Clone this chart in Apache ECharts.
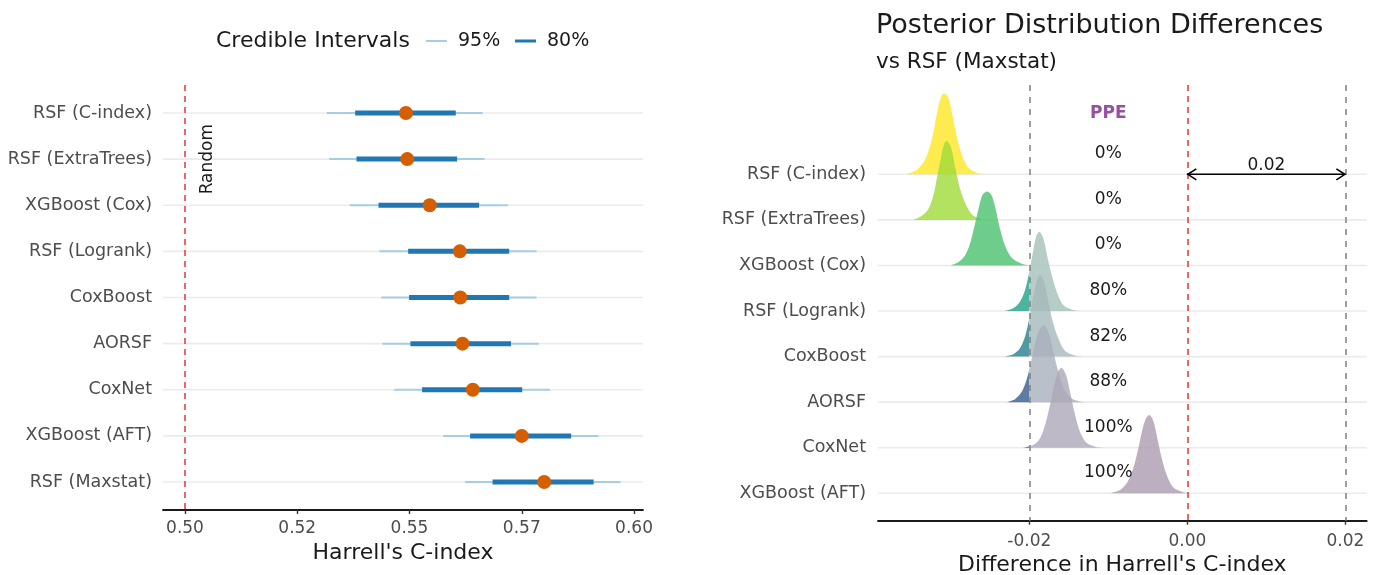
<!DOCTYPE html>
<html>
<head>
<meta charset="utf-8">
<script src="https://cdn.jsdelivr.net/npm/echarts@6/dist/echarts.min.js"></script>
<style>
html, body { margin: 0; padding: 0; background: #ffffff; }
#chart { width: 1378px; height: 575px; }
</style>
</head>
<body>
<div id="chart"></div>
<script>
// ---- Left panel: Harrell's C-index per model (posterior median, 80% / 95% credible intervals)
const models = ['RSF (C-index)', 'RSF (ExtraTrees)', 'XGBoost (Cox)', 'RSF (Logrank)', 'CoxBoost',
  'AORSF', 'CoxNet', 'XGBoost (AFT)', 'RSF (Maxstat)'];
const cMedian  = [0.5492, 0.5495, 0.5545, 0.5612, 0.5613, 0.5618, 0.5641, 0.5750, 0.5800];
const ci95Low  = [0.5316, 0.5321, 0.5367, 0.5433, 0.5437, 0.5440, 0.5466, 0.5575, 0.5624];
const ci95High = [0.5663, 0.5667, 0.5719, 0.5783, 0.5783, 0.5788, 0.5813, 0.5921, 0.5970];
const ci80Low  = [0.5379, 0.5382, 0.5431, 0.5497, 0.5499, 0.5502, 0.5528, 0.5635, 0.5685];
const ci80High = [0.5603, 0.5606, 0.5655, 0.5722, 0.5722, 0.5726, 0.5751, 0.5860, 0.5910];
const randomC = 0.5;
const cTicks = [0.5, 0.525, 0.55, 0.575, 0.6];
const cTickLabels = ['0.50', '0.52', '0.55', '0.57', '0.60'];

// ---- Right panel: posterior difference vs RSF (Maxstat), density ridges
// each ridge: [difference, density] with density scaled so 1 = one row of the plot
const diffModels = models.slice(0, 8);
const densCIndex = [[-0.03573, 0], [-0.03447, 0.072], [-0.03342, 0.255], [-0.03278, 0.505], [-0.03215, 0.913],
  [-0.03159, 1.426], [-0.03109, 1.734], [-0.03076, 1.778], [-0.03025, 1.681], [-0.02975, 1.317],
  [-0.02919, 0.834], [-0.02856, 0.439], [-0.02772, 0.145], [-0.02646, 0.022], [-0.02539, 0]];
const densExtraTrees = [[-0.03468, 0], [-0.03362, 0.088], [-0.03278, 0.235], [-0.03215, 0.527], [-0.03172, 0.893],
  [-0.03122, 1.332], [-0.03080, 1.661], [-0.03046, 1.734], [-0.02991, 1.587], [-0.02941, 1.185],
  [-0.02886, 0.746], [-0.02814, 0.380], [-0.02729, 0.125], [-0.02603, 0.011], [-0.02523, 0]];
const densXgbCox = [[-0.03004, 0], [-0.02899, 0.072], [-0.02814, 0.219], [-0.02751, 0.476], [-0.02687, 0.915],
  [-0.02633, 1.317], [-0.02590, 1.558], [-0.02532, 1.624], [-0.02476, 1.536], [-0.02422, 1.207],
  [-0.02371, 0.805], [-0.02308, 0.439], [-0.02223, 0.169], [-0.02096, 0.037], [-0.01991, 0]];
const densLogrank = [[-0.02308, 0], [-0.02203, 0.059], [-0.02118, 0.204], [-0.02054, 0.461], [-0.02000, 0.862],
  [-0.01957, 1.266], [-0.01915, 1.630], [-0.01873, 1.740], [-0.01823, 1.595], [-0.01772, 1.192],
  [-0.01716, 0.790], [-0.01653, 0.424], [-0.01570, 0.132], [-0.01443, 0.022], [-0.01337, 0]];
const densCoxBoost = [[-0.02308, 0], [-0.02203, 0.050], [-0.02118, 0.182], [-0.02054, 0.439], [-0.02000, 0.840],
  [-0.01949, 1.317], [-0.01906, 1.661], [-0.01865, 1.793], [-0.01814, 1.646], [-0.01759, 1.207],
  [-0.01704, 0.768], [-0.01633, 0.402], [-0.01548, 0.125], [-0.01422, 0.022], [-0.01316, 0]];
const densAorsf = [[-0.02286, 0], [-0.02181, 0.066], [-0.02096, 0.226], [-0.02033, 0.505], [-0.01978, 0.884],
  [-0.01928, 1.288], [-0.01865, 1.617], [-0.01810, 1.690], [-0.01751, 1.508], [-0.01696, 1.104],
  [-0.01633, 0.665], [-0.01561, 0.301], [-0.01463, 0.081], [-0.01337, 0.011], [-0.01232, 0]];
const densCoxNet = [[-0.02076, 0], [-0.01949, 0.059], [-0.01865, 0.204], [-0.01801, 0.498], [-0.01738, 0.937],
  [-0.01684, 1.376], [-0.01633, 1.683], [-0.01590, 1.756], [-0.01535, 1.595], [-0.01485, 1.229],
  [-0.01430, 0.790], [-0.01367, 0.388], [-0.01282, 0.116], [-0.01147, 0.015], [-0.01067, 0]];
const densXgbAft = [[-0.00978, 0], [-0.00852, 0.072], [-0.00759, 0.241], [-0.00684, 0.549], [-0.00620, 0.987],
  [-0.00570, 1.389], [-0.00523, 1.646], [-0.00481, 1.718], [-0.00430, 1.587], [-0.00380, 1.207],
  [-0.00324, 0.768], [-0.00261, 0.402], [-0.00177, 0.125], [-0.00051, 0.022], [0.00034, 0]];
const ridges = [densCIndex, densExtraTrees, densXgbCox, densLogrank, densCoxBoost, densAorsf, densCoxNet, densXgbAft];
const ppeLabels = ['0%', '0%', '0%', '80%', '82%', '88%', '100%', '100%'];
const ropeLow = -0.02;
const ropeHigh = 0.02;
const ropeWidthLabel = '0.02';
const diffTicks = [-0.02, 0, 0.02];
const diffTickLabels = ['-0.02', '0.00', '0.02'];

// ---- styling
const FONT = 'DejaVu Sans';
const viridis = ['#fde725', '#a0da39', '#4ac16d', '#1fa187', '#277f8e', '#365c8d', '#46337e', '#440154'];

function hexToRgb(h) {
  return [parseInt(h.slice(1, 3), 16), parseInt(h.slice(3, 5), 16), parseInt(h.slice(5, 7), 16)];
}
function rgba(rgb, a) { return 'rgba(' + rgb.map(Math.round).join(',') + ',' + a + ')'; }
function mix(hex, greyHex, t) {
  const a = hexToRgb(hex), g = hexToRgb(greyHex);
  return a.map((v, k) => v * t + g[k] * (1 - t));
}
const fillMain = viridis.map(c => rgba(hexToRgb(c), 0.8));
const fillRope = viridis.map(c => rgba(mix(c, '#c9c9c9', 0.225), 0.8));

function tickLabel(ticks, labels) {
  return v => {
    for (let k = 0; k < ticks.length; k++) if (Math.abs(ticks[k] - v) < 1e-9) return labels[k];
    return '';
  };
}

const chart = echarts.init(document.getElementById('chart'), null, { renderer: 'canvas' });

const rowIdx = models.map((_, i) => i);
const diffIdx = diffModels.map((_, i) => i);

function rowGridLines(axisX) {
  return function (params, api) {
    const y = api.coord([axisX, api.value(1)])[1];
    const cs = params.coordSys;
    return {
      type: 'line',
      shape: { x1: cs.x, y1: y, x2: cs.x + cs.width, y2: y },
      style: { stroke: '#ebebeb', lineWidth: 1.6 }
    };
  };
}

function intervalRenderer(color, width) {
  return function (params, api) {
    const i = api.value(2);
    const p1 = api.coord([api.value(0), i]);
    const p2 = api.coord([api.value(1), i]);
    return {
      type: 'line',
      shape: { x1: p1[0], y1: p1[1], x2: p2[0], y2: p2[1] },
      style: { stroke: color, lineWidth: width }
    };
  };
}

const option = {
  animation: false,
  backgroundColor: '#ffffff',
  textStyle: { fontFamily: FONT },
  title: [
    {
      text: 'Posterior Distribution Differences',
      subtext: 'vs RSF (Maxstat)',
      left: 876, top: 12, itemGap: 12, padding: 0,
      textStyle: { fontFamily: FONT, fontSize: 27, fontWeight: 'normal', color: '#1a1a1a', lineHeight: 27 },
      subtextStyle: { fontFamily: FONT, fontSize: 21.5, color: '#1a1a1a', lineHeight: 22 }
    },
    {
      text: 'Credible Intervals',
      left: 216, top: 30, padding: 0,
      textStyle: { fontFamily: FONT, fontSize: 22, fontWeight: 'normal', color: '#1a1a1a', lineHeight: 22 }
    }
  ],
  legend: [
    {
      data: [{ name: '95%', icon: 'rect' }],
      left: 426, top: 31, padding: 0, selectedMode: false,
      itemWidth: 21, itemHeight: 2,
      textStyle: { fontFamily: FONT, fontSize: 19, color: '#1a1a1a', lineHeight: 20, padding: [0, 0, 0, 6] }
    },
    {
      data: [{ name: '80%', icon: 'rect' }],
      left: 515, top: 31, padding: 0, selectedMode: false,
      itemWidth: 21, itemHeight: 3,
      textStyle: { fontFamily: FONT, fontSize: 19, color: '#1a1a1a', lineHeight: 20, padding: [0, 0, 0, 6] }
    }
  ],
  grid: [
    { left: 163, right: 1378 - 643, top: 85, bottom: 575 - 510, containLabel: false, outerBoundsMode: 'none' },
    { left: 878, right: 1378 - 1366.7, top: 85, bottom: 575 - 520.7, containLabel: false, outerBoundsMode: 'none' }
  ],
  xAxis: [
    {
      gridIndex: 0, type: 'value', min: 0.4951, max: 0.602,
      axisLine: { show: true, onZero: false, lineStyle: { color: '#1a1a1a', width: 1.8 } },
      axisTick: { show: true, customValues: cTicks, length: 4, lineStyle: { color: '#333333', width: 1.4 } },
      axisLabel: { customValues: cTicks, formatter: tickLabel(cTicks, cTickLabels),
        fontFamily: FONT, fontSize: 17, color: '#4d4d4d', margin: 10 },
      splitLine: { show: false },
      name: "Harrell's C-index", nameLocation: 'middle', nameGap: 40,
      nameTextStyle: { fontFamily: FONT, fontSize: 22, color: '#1a1a1a', verticalAlign: 'middle' }
    },
    {
      gridIndex: 1, type: 'value', min: -0.03915, max: 0.0227,
      axisLine: { show: true, onZero: false, lineStyle: { color: '#1a1a1a', width: 1.8 } },
      axisTick: { show: true, customValues: diffTicks, length: 4, lineStyle: { color: '#333333', width: 1.4 } },
      axisLabel: { customValues: diffTicks, formatter: tickLabel(diffTicks, diffTickLabels),
        fontFamily: FONT, fontSize: 17, color: '#4d4d4d', margin: 12 },
      splitLine: { show: false },
      name: "Difference in Harrell's C-index", nameLocation: 'middle', nameGap: 41,
      nameTextStyle: { fontFamily: FONT, fontSize: 22, color: '#1a1a1a', verticalAlign: 'middle' }
    }
  ],
  yAxis: [
    {
      gridIndex: 0, type: 'value', inverse: true, min: -0.607, max: 8.607,
      axisLine: { show: false, onZero: false }, axisTick: { show: false }, splitLine: { show: false },
      axisLabel: { customValues: rowIdx, formatter: v => models[Math.round(v)], padding: [2, 0, 0, 0],
        fontFamily: FONT, fontSize: 17.5, color: '#4d4d4d', margin: 11 }
    },
    {
      gridIndex: 1, type: 'value', inverse: true, min: -1.96, max: 7.601,
      axisLine: { show: false, onZero: false }, axisTick: { show: false }, splitLine: { show: false },
      axisLabel: { customValues: diffIdx, formatter: v => diffModels[Math.round(v)], padding: [4, 0, 0, 0],
        fontFamily: FONT, fontSize: 17.5, color: '#4d4d4d', margin: 12 }
    }
  ],
  series: [
    // left: row grid lines
    {
      type: 'custom', name: 'rowsLeft', xAxisIndex: 0, yAxisIndex: 0, z: 1, silent: true,
      data: rowIdx.map(i => [0.55, i]), renderItem: rowGridLines(0.55)
    },
    // left: 95% interval
    {
      type: 'custom', name: '95%', xAxisIndex: 0, yAxisIndex: 0, z: 2, silent: true,
      itemStyle: { color: '#a6cee3' },
      encode: { x: [0, 1], y: 2 },
      data: rowIdx.map(i => [ci95Low[i], ci95High[i], i]),
      renderItem: intervalRenderer('#a6cee3', 2)
    },
    // left: 80% interval
    {
      type: 'custom', name: '80%', xAxisIndex: 0, yAxisIndex: 0, z: 3, silent: true,
      itemStyle: { color: '#1f78b4' },
      encode: { x: [0, 1], y: 2 },
      data: rowIdx.map(i => [ci80Low[i], ci80High[i], i]),
      renderItem: intervalRenderer('#1f78b4', 5)
    },
    // left: posterior median + random-guess reference line
    {
      type: 'scatter', name: 'median', xAxisIndex: 0, yAxisIndex: 0, z: 4, silent: true,
      symbol: 'circle', symbolSize: 14, itemStyle: { color: '#d55e00', opacity: 1 },
      data: rowIdx.map(i => [cMedian[i], i]),
      markLine: {
        silent: true, symbol: ['none', 'none'], label: { show: false },
        lineStyle: { color: '#e8413d', width: 1.6, type: [6, 5] },
        data: [{ xAxis: randomC }]
      }
    },
    // left: "Random" annotation
    {
      type: 'custom', name: 'randomLabel', xAxisIndex: 0, yAxisIndex: 0, z: 5, silent: true,
      data: [[0.5051, 1]],
      renderItem: function (params, api) {
        const p = api.coord([api.value(0), api.value(1)]);
        return {
          type: 'text', x: p[0], y: p[1], rotation: Math.PI / 2,
          style: { text: 'Random', fontFamily: FONT, fontSize: 17, fill: '#1a1a1a', align: 'center', verticalAlign: 'middle' }
        };
      }
    },
    // right: row grid lines
    {
      type: 'custom', name: 'rowsRight', xAxisIndex: 1, yAxisIndex: 1, z: 1, silent: true,
      data: diffIdx.map(i => [0, i]), renderItem: rowGridLines(0)
    },
    // right: density ridges, coloured outside / greyed inside the ROPE
    {
      type: 'custom', name: 'ridges', xAxisIndex: 1, yAxisIndex: 1, z: 2, silent: true,
      data: diffIdx.map(i => [ridges[i][0][0], i]),
      renderItem: function (params, api) {
        const i = api.value(1);
        const rowPx = Math.abs(api.size([0, 1])[1]);
        const poly = ridges[i].map(([x, h]) => {
          const p = api.coord([x, i]);
          return [p[0], p[1] - h * rowPx];
        });
        const x0 = poly[0][0], x1 = poly[poly.length - 1][0];
        const xr = api.coord([ropeLow, i])[0];
        const f = Math.max(0, Math.min(1, (xr - x0) / (x1 - x0)));
        const fill = new echarts.graphic.LinearGradient(x0, 0, x1, 0, [
          { offset: 0, color: fillMain[i] }, { offset: f, color: fillMain[i] },
          { offset: f, color: fillRope[i] }, { offset: 1, color: fillRope[i] }
        ], true);
        // keep the smoothed outline inside the ridge's own bounding box
        const anchor = poly[0].slice();
        return {
          type: 'polygon',
          shape: { points: poly, smooth: 0.3, smoothConstraint: [anchor, anchor] },
          style: { fill: fill, stroke: null }
        };
      }
    },
    // right: PPE column + ROPE / zero reference lines
    {
      type: 'custom', name: 'ppe', xAxisIndex: 1, yAxisIndex: 1, z: 5, silent: true,
      data: diffIdx.map(i => [-0.01, i - 0.45, i]),
      renderItem: function (params, api) {
        const p = api.coord([api.value(0), api.value(1)]);
        const i = api.value(2);
        const items = [{
          type: 'text', x: p[0], y: p[1],
          style: { text: ppeLabels[i], fontFamily: FONT, fontSize: 17, fill: '#1a1a1a', align: 'center', verticalAlign: 'middle' }
        }];
        if (i === 0) {
          const h = api.coord([-0.01, -1.33]);
          items.push({
            type: 'text', x: h[0], y: h[1],
            style: { text: 'PPE', fontFamily: FONT, fontSize: 17, fontWeight: 'bold', fill: '#984ea3', align: 'center', verticalAlign: 'middle' }
          });
        }
        return { type: 'group', children: items };
      },
      markLine: {
        silent: true, symbol: ['none', 'none'], label: { show: false },
        data: [
          { xAxis: ropeLow, lineStyle: { color: '#808080', width: 1.5, type: [6, 6] } },
          { xAxis: 0, lineStyle: { color: '#e8413d', width: 1.6, type: [6, 5] } },
          { xAxis: ropeHigh, lineStyle: { color: '#808080', width: 1.5, type: [6, 6] } }
        ]
      }
    },
    // right: ROPE width arrow
    {
      type: 'custom', name: 'ropeArrow', xAxisIndex: 1, yAxisIndex: 1, z: 6, silent: true,
      data: [[0, ropeHigh, 0]],
      renderItem: function (params, api) {
        const a = api.coord([api.value(0), api.value(2)]);
        const b = api.coord([api.value(1), api.value(2)]);
        const t = api.coord([(api.value(0) + api.value(1)) / 2, api.value(2) - 0.2]);
        const hl = 9, hw = 5.5;
        const st = { stroke: '#000000', lineWidth: 1.6, fill: null };
        return {
          type: 'group', children: [
            { type: 'line', shape: { x1: a[0], y1: a[1], x2: b[0], y2: b[1] }, style: st },
            { type: 'polyline', shape: { points: [[a[0] + hl, a[1] - hw], [a[0] + 0.5, a[1]], [a[0] + hl, a[1] + hw]] }, style: st },
            { type: 'polyline', shape: { points: [[b[0] - hl, b[1] - hw], [b[0] - 0.5, b[1]], [b[0] - hl, b[1] + hw]] }, style: st },
            { type: 'text', x: t[0], y: t[1], style: { text: ropeWidthLabel, fontFamily: FONT, fontSize: 17, fill: '#1a1a1a', align: 'center', verticalAlign: 'middle' } }
          ]
        };
      }
    }
  ]
};

chart.setOption(option);
</script>
</body>
</html>
